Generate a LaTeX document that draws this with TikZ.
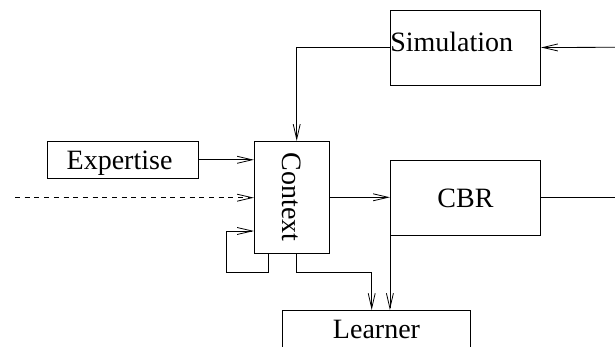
\documentclass[tikz,border=0pt]{standalone}
\usepackage{fontspec}
\setmainfont{Liberation Serif}
\usetikzlibrary{arrows.meta}
\begin{document}
\begin{tikzpicture}[x=1pt,y=-1pt,
  box/.style={draw, line width=0.8pt, inner sep=0pt, font=\fontsize{28}{34}\selectfont},
  arr/.style={line width=0.8pt, -{Straight Barb[length=15pt,width=7pt]}},
  ln/.style={line width=0.8pt},
  dash line/.style={dash pattern=on 5pt off 4.7pt}]
\useasboundingbox (0,0) rectangle (615,347);
% boxes
\node[box, text width=150.4pt, align=left, text height=41.7pt, text depth=33.3pt] (sim) at (465.5,47.5) {Simulation};
\node[box, text width=150.6pt, align=left, text height=28.7pt, text depth=8.3pt] (exp) at (123,159.8) {\hspace*{19pt}Expertise};
\node[box, minimum width=75.4pt, minimum height=112pt] (ctx) at (292,197.3) {\rotatebox{-90}{Context}};
\node[box, minimum width=150.4pt, text height=47.3pt, text depth=27.7pt] (cbr) at (465.5,197.5) {CBR};
\node[box, minimum width=187.6pt, text height=27.7pt, text depth=20.3pt, anchor=north] (lrn) at (376.5,310) {Learner};
% free ends
\coordinate (simin) at (615,47.3);
\coordinate (cbrout) at (615,197.5);
\coordinate (dashin) at (15,197.7);
\coordinate (lj) at (371.7,272.7);
\coordinate (loopc) at (226.3,272.7);
% connectors
\draw[arr] (simin) -- (sim.east);
\draw[arr] (sim.west) -| ([xshift=4.7pt]ctx.north);
\draw[arr] (exp.east) -- (exp.east -| ctx.west);
\draw[arr, dash line] (dashin) -- (dashin -| ctx.west);
\draw[arr] (ctx.east) -- (ctx.east -| cbr.west);
\draw[ln] (cbr.east) -- (cbrout);
\draw[arr] ([xshift=-23.7pt]ctx.south) |- (loopc) |- (ctx.west |- 0,231);
\draw[arr] ([xshift=4.7pt]ctx.south) |- (lj) -- (lj |- lrn.north);
\draw[arr] (cbr.south west) -- (cbr.south west |- lrn.north);
\end{tikzpicture}
\end{document}
